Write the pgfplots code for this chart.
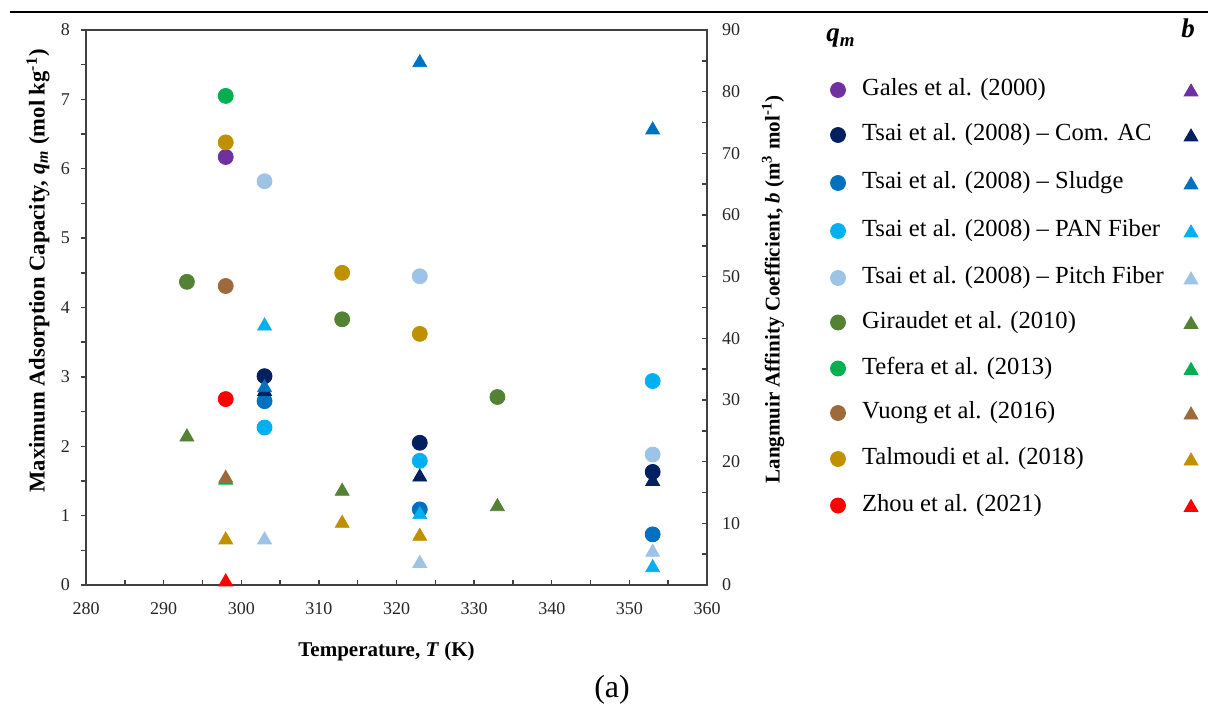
\documentclass[border=0pt]{standalone}
\usepackage{fontspec}
\setmainfont{Liberation Serif}
\usepackage{pgfplots}
\pgfplotsset{compat=1.18}

\definecolor{cGales}{HTML}{7030A0}
\definecolor{cComAC}{HTML}{002060}
\definecolor{cSludge}{HTML}{0070C0}
\definecolor{cPAN}{HTML}{00B0F0}
\definecolor{cPitch}{HTML}{9DC3E6}
\definecolor{cGiraudet}{HTML}{548235}
\definecolor{cTefera}{HTML}{00B050}
\definecolor{cVuong}{HTML}{9E6A3C}
\definecolor{cTalmoudi}{HTML}{BF9000}
\definecolor{cZhou}{HTML}{FF0000}

\pgfplotsset{
  qm/.style={only marks, color=#1, mark=*, mark size=3.75pt, mark options={draw=none, fill=#1}},
  bb/.style={only marks, color=#1, mark=triangle*, mark size=4pt, mark options={draw=none, fill=#1}},
  frame/.style={
    at={(plotSW)}, anchor=south west, scale only axis,
    width=310.5pt, height=277.5pt,
    xmin=280, xmax=360,
    major tick length=2.5pt, minor tick length=2.5pt,
    axis line style={black!75, line width=0.7pt},
    every tick/.style={black!75, line width=0.7pt},
    tick label style={font=\fontsize{9}{10}\selectfont, text=black!85},
    /pgf/number format/assume math mode=true,
    clip=false,
  },
}

\begin{document}
\begin{tikzpicture}[x=0.5pt,y=0.5pt]
\useasboundingbox (0,0) rectangle (1208,711);
\draw[line width=1pt] (10,699) -- (1208,699);
\coordinate (plotSW) at (86,126);

% q_m on the left axis
\begin{axis}[frame,
  ymin=0, ymax=8,
  xtick={280,290,...,360}, ytick={0,1,...,8},
  minor x tick num=1, minor y tick num=1,
  xtick pos=bottom, ytick pos=left,
  xtick align=inside, ytick align=outside,
  xticklabel style={yshift=-5pt},
  yticklabel style={xshift=-2pt},
]
\addplot[qm=cGales]    coordinates {(298,6.17)};
\addplot[qm=cComAC]    coordinates {(303,3.01) (323,2.05) (353,1.63)};
\addplot[qm=cSludge]   coordinates {(303,2.65) (323,1.09) (353,0.73)};
\addplot[qm=cPAN]      coordinates {(303,2.27) (323,1.79) (353,2.94)};
\addplot[qm=cPitch]    coordinates {(303,5.82) (323,4.45) (353,1.88)};
\addplot[qm=cGiraudet] coordinates {(293,4.37) (313,3.83) (333,2.71)};
\addplot[qm=cTefera]   coordinates {(298,7.05)};
\addplot[qm=cVuong]    coordinates {(298,4.31)};
\addplot[qm=cTalmoudi] coordinates {(298,6.38) (313,4.50) (323,3.62)};
\addplot[qm=cZhou]     coordinates {(298,2.68)};
\end{axis}

% b on the right axis
\begin{axis}[frame,
  ymin=0, ymax=90,
  axis x line=none, axis y line*=right,
  ytick={0,10,...,90}, minor y tick num=1,
  ytick align=inside,
  yticklabel style={xshift=4pt},
]
\addplot[bb=cComAC]    coordinates {(303,31.4) (323,17.5) (353,16.8)};
\addplot[bb=cSludge]   coordinates {(303,32.0) (323,84.7) (353,73.8)};
\addplot[bb=cPAN]      coordinates {(303,42.0) (323,11.4) (353,2.8)};
\addplot[bb=cPitch]    coordinates {(303,7.3) (323,3.5) (353,5.3)};
\addplot[bb=cGiraudet] coordinates {(293,24.0) (313,15.2) (333,12.7)};
\addplot[bb=cTefera]   coordinates {(298,17.0)};
\addplot[bb=cVuong]    coordinates {(298,17.3)};
\addplot[bb=cTalmoudi] coordinates {(298,7.3) (313,10.0) (323,7.9)};
\addplot[bb=cZhou]     coordinates {(298,0.5)};
\end{axis}

% key: circles for q_m, triangles for b
\begin{axis}[at={(0,0)}, anchor=south west, scale only axis,
  width=604pt, height=355.5pt,
  xmin=0, xmax=1208, ymin=0, ymax=711, y dir=reverse,
  hide axis, clip=false]
\addplot[qm=cGales]    coordinates {(838,90)};
\addplot[qm=cComAC]    coordinates {(838,135)};
\addplot[qm=cSludge]   coordinates {(838,183)};
\addplot[qm=cPAN]      coordinates {(838,231)};
\addplot[qm=cPitch]    coordinates {(838,278)};
\addplot[qm=cGiraudet] coordinates {(838,322.5)};
\addplot[qm=cTefera]   coordinates {(838,368.5)};
\addplot[qm=cVuong]    coordinates {(838,413)};
\addplot[qm=cTalmoudi] coordinates {(838,459)};
\addplot[qm=cZhou]     coordinates {(838,505.5)};
\addplot[bb=cGales]    coordinates {(1191,92)};
\addplot[bb=cComAC]    coordinates {(1191,137)};
\addplot[bb=cSludge]   coordinates {(1191,185)};
\addplot[bb=cPAN]      coordinates {(1191,233)};
\addplot[bb=cPitch]    coordinates {(1191,280)};
\addplot[bb=cGiraudet] coordinates {(1191,324.5)};
\addplot[bb=cTefera]   coordinates {(1191,370.5)};
\addplot[bb=cVuong]    coordinates {(1191,415)};
\addplot[bb=cTalmoudi] coordinates {(1191,461)};
\addplot[bb=cZhou]     coordinates {(1191,507.5)};
\begin{scope}[every node/.style={anchor=west, inner sep=0pt, font=\fontsize{12.3}{14}\selectfont}]
\node at (axis cs:861.7,90)    {Gales et al. (2000)};
\node at (axis cs:861.7,135)   {Tsai et al. (2008) -- Com. AC};
\node at (axis cs:861.7,183)   {Tsai et al. (2008) -- Sludge};
\node at (axis cs:861.7,231)   {Tsai et al. (2008) -- PAN Fiber};
\node at (axis cs:861.7,278)   {Tsai et al. (2008) -- Pitch Fiber};
\node at (axis cs:861.7,322.5) {Giraudet et al. (2010)};
\node at (axis cs:861.7,368.5) {Tefera et al. (2013)};
\node at (axis cs:861.7,413)   {Vuong et al. (2016)};
\node at (axis cs:861.7,459)   {Talmoudi et al. (2018)};
\node at (axis cs:861.7,505.5) {Zhou et al. (2021)};
\end{scope}
\node[anchor=base west, inner sep=0pt, font=\bfseries\itshape\fontsize{13.5}{15}\selectfont]
  at (axis cs:826,42) {q\textsubscript{m}};
\node[anchor=base west, inner sep=0pt, font=\bfseries\itshape\fontsize{13.5}{15}\selectfont]
  at (axis cs:1181,38) {b};
\end{axis}

% axis titles and panel caption
\node[font=\bfseries\fontsize{10.5}{12}\selectfont] at (386.5,59.3)
  {Temperature, \textit{T} (K)};
\node[rotate=90, font=\bfseries\fontsize{11.3}{13}\selectfont] at (38,440)
  {Maximum Adsorption Capacity, \textit{q\textsubscript{m}} (mol kg\textsuperscript{-1})};
\node[rotate=90, font=\bfseries\fontsize{10.5}{12}\selectfont] at (773,421.5)
  {Langmuir Affinity Coefficient, \textit{b} (m\textsuperscript{3} mol\textsuperscript{-1})};
\node[font=\fontsize{16}{18}\selectfont] at (612,21) {(a)};
\end{tikzpicture}
\end{document}
